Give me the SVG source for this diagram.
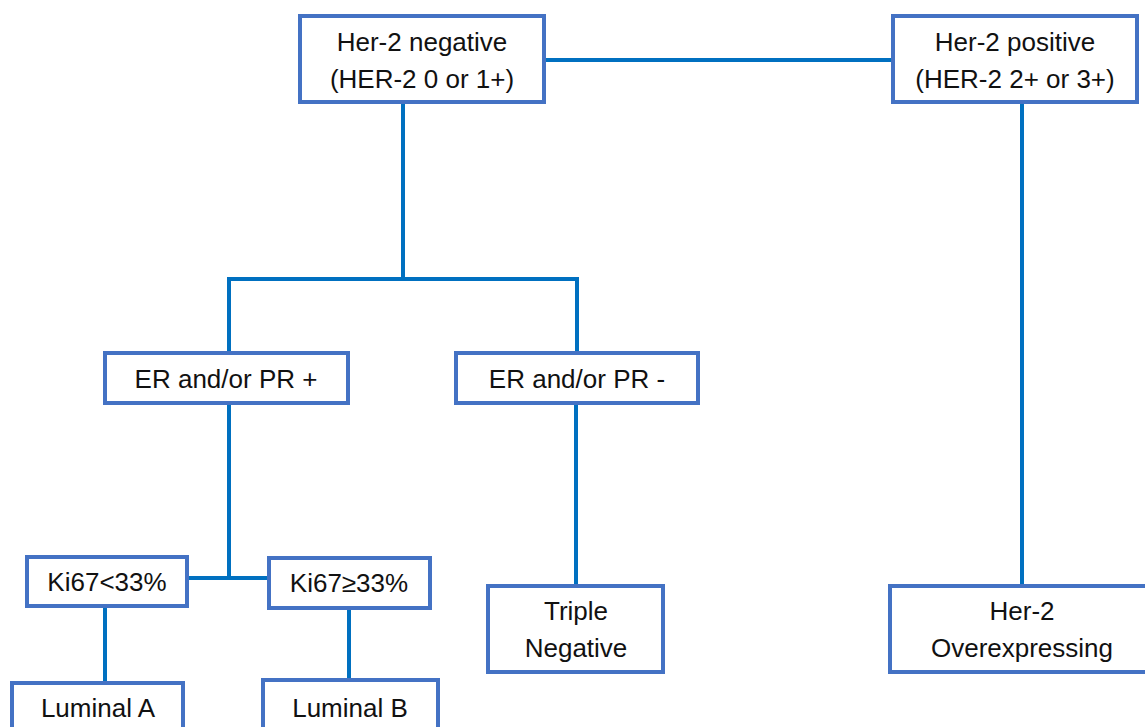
<svg xmlns="http://www.w3.org/2000/svg" width="1145" height="727" viewBox="0 0 1145 727">
<style>
.box{fill:#fff;stroke:#4472C4;stroke-width:4}
.lbl{font-family:"Liberation Sans",Arial,sans-serif;font-size:26px;fill:#111;text-anchor:middle}
.conn{fill:none;stroke:#0070C0;stroke-width:4}
</style>
<rect width="1145" height="727" fill="#fff"/>
<g id="connectors">
<path class="conn" d="M545 60 H893"/>
<path class="conn" d="M403 102 V279 M229 279 H577 M229 277 V352 M577 277 V352"/>
<path class="conn" d="M229 403 V578 M187 578 H269"/>
<path class="conn" d="M576 403 V586"/>
<path class="conn" d="M105 606 V683 M349 608 V680"/>
<path class="conn" d="M1022 101 V586"/>
</g>
<g id="her2neg"><rect class="box" x="300" y="16" width="244" height="86"/><text class="lbl" x="422" y="51">Her-2 negative</text><text class="lbl" x="422" y="88">(HER-2 0 or 1+)</text></g>
<g id="her2pos"><rect class="box" x="893" y="16" width="244" height="86"/><text class="lbl" x="1015" y="51">Her-2 positive</text><text class="lbl" x="1015" y="88">(HER-2 2+ or 3+)</text></g>
<g id="erpos"><rect class="box" x="105" y="353" width="243" height="50"/><text class="lbl" x="226" y="388">ER and/or PR +</text></g>
<g id="erneg"><rect class="box" x="456" y="353" width="242" height="50"/><text class="lbl" x="577" y="388">ER and/or PR -</text></g>
<g id="kilow"><rect class="box" x="27" y="557" width="160" height="49"/><text class="lbl" x="107" y="591">Ki67&lt;33%</text></g>
<g id="kihigh"><rect class="box" x="269" y="558" width="161" height="50"/><text class="lbl" x="349" y="592">Ki67≥33%</text></g>
<g id="luma"><rect class="box" x="12" y="683" width="171" height="60"/><text class="lbl" x="98" y="717">Luminal A</text></g>
<g id="lumb"><rect class="box" x="263" y="680" width="175" height="60"/><text class="lbl" x="350" y="717">Luminal B</text></g>
<g id="tn"><rect class="box" x="488" y="586" width="175" height="86"/><text class="lbl" x="576" y="620">Triple</text><text class="lbl" x="576" y="657">Negative</text></g>
<g id="her2over"><rect class="box" x="890" y="586" width="260" height="86"/><text class="lbl" x="1022" y="620">Her-2</text><text class="lbl" x="1022" y="657">Overexpressing</text></g>
</svg>
